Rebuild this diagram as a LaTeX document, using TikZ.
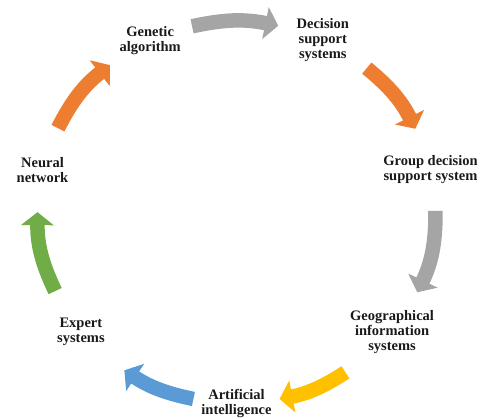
\documentclass[tikz,border=0pt]{standalone}
\usepackage{fontspec}
\setmainfont{Liberation Serif}
\usepackage{tikz}
\usetikzlibrary{arrows.meta}
\usepackage{xcolor}
\definecolor{cygray}{RGB}{165,165,165}
\definecolor{cyorange}{RGB}{237,125,49}
\definecolor{cyyellow}{RGB}{255,192,0}
\definecolor{cyblue}{RGB}{91,155,213}
\definecolor{cygreen}{RGB}{112,173,71}
\tikzstyle{topic} = [font=\bfseries\fontsize{14.5}{15}\selectfont, align=center, inner sep=0pt, text=black!90]
\tikzstyle{cyclearrow} = [line width=14.5pt, -{Triangle[length=13pt, width=32pt]}]

\begin{document}
\begin{tikzpicture}
\useasboundingbox (-236.5pt,-206.5pt) rectangle (249.5pt,212.5pt);
\clip (-236.5pt,-206.5pt) rectangle (249.5pt,212.5pt);

% Cycle topics
\node (genetic) [topic] at (115.71:199pt and 191pt) {Genetic\\algorithm};
\node (decision) [topic] at (64.29:199pt and 191pt) {Decision\\support\\systems};
\node (group) [topic] at (12.86:199pt and 191pt) {Group decision\\support system};
\node (geo) [topic] at (-38.57:199pt and 191pt) {Geographical\\information\\systems};
\node (ai) [topic] at (-90:199pt and 191pt) {Artificial\\intelligence};
\node (expert) [topic] at (-141.43:199pt and 191pt) {Expert\\systems};
\node (neural) [topic] at (167.14:199pt and 191pt) {Neural\\network};

% Arrow ends
\coordinate (genetic-out) at (102.9:199pt and 191pt);
\coordinate (decision-in) at (77.9:199pt and 191pt);
\coordinate (decision-out) at (49.1:199pt and 191pt);
\coordinate (group-in) at (26:199pt and 191pt);
\coordinate (group-out) at (0.5:199pt and 191pt);
\coordinate (geo-in) at (-24.7:199pt and 191pt);
\coordinate (geo-out) at (-56.8:199pt and 191pt);
\coordinate (ai-in) at (-77.5:199pt and 191pt);
\coordinate (ai-out) at (-102.5:199pt and 191pt);
\coordinate (expert-in) at (-124.3:199pt and 191pt);
\coordinate (expert-out) at (-155.7:199pt and 191pt);
\coordinate (neural-in) at (179.9:199pt and 191pt);
\coordinate (neural-out) at (153.8:199pt and 191pt);
\coordinate (genetic-in) at (129.5:199pt and 191pt);

% Arrows - clockwise
\draw[cyclearrow, cygray] (genetic-out) to[bend left=12] (decision-in);
\draw[cyclearrow, cyorange] (decision-out) to[bend left=12] (group-in);
\draw[cyclearrow, cygray] (group-out) to[bend left=13] (geo-in);
\draw[cyclearrow, cyyellow] (geo-out) to[bend left=11] (ai-in);
\draw[cyclearrow, cyblue] (ai-out) to[bend left=11] (expert-in);
\draw[cyclearrow, cygreen] (expert-out) to[bend left=13] (neural-in);
\draw[cyclearrow, cyorange] (neural-out) to[bend left=12.5] (genetic-in);
\end{tikzpicture}
\end{document}
